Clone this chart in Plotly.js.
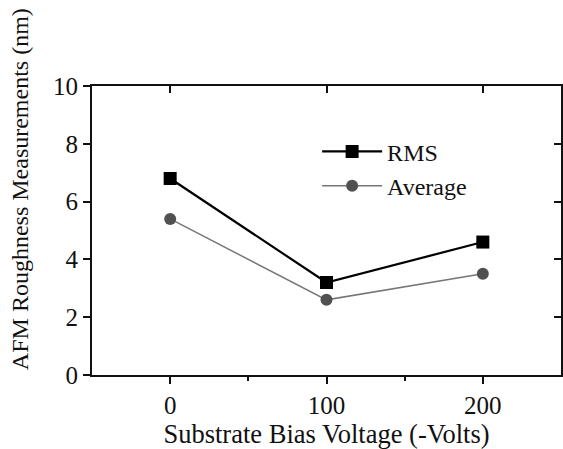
<!DOCTYPE html>
<html><head><meta charset="utf-8">
<script src="https://cdn.plot.ly/plotly-3.0.1.min.js"></script>
<style>html,body{margin:0;padding:0;background:#fff}</style>
</head><body>
<div id="chart" style="width:563px;height:449px"></div>
<script>
const voltages = [0, 100, 200];
const rmsValues = [6.8, 3.2, 4.6];
const avgValues = [5.4, 2.6, 3.5];
const xTickVals = [0, 100, 200];
const yTickVals = [0, 2, 4, 6, 8, 10];
const xTitle = "Substrate Bias Voltage (-Volts)";
const yTitle = "AFM Roughness Measurements (nm)";

const serif = "Liberation Serif, Times New Roman, serif";
const traces = [
  {x: voltages, y: rmsValues, name: "RMS", mode: "lines+markers",
   line: {color: "#000", width: 2.2}, marker: {symbol: "square", size: 13, color: "#000"}},
  {x: voltages, y: avgValues, name: "Average", mode: "lines+markers",
   line: {color: "#777", width: 1.5}, marker: {symbol: "circle", size: 12, color: "#505050"}},
  {x: voltages, y: rmsValues, xaxis: "x2", yaxis: "y2", mode: "markers",
   marker: {opacity: 0}, showlegend: false, hoverinfo: "skip"}
];
const layout = {
  width: 563, height: 449,
  margin: {l: 92, r: 2, t: 86, b: 74},
  paper_bgcolor: "#fff", plot_bgcolor: "#fff",
  font: {family: serif, size: 25, color: "#111"},
  showlegend: true,
  legend: {x: 0.48, y: 0.85, xanchor: "left", yanchor: "top", bgcolor: "rgba(0,0,0,0)",
           font: {family: serif, size: 24, color: "#111"}, tracegroupgap: 0, itemwidth: 60},
  xaxis: {range: [-50, 250], tickvals: xTickVals, ticktext: xTickVals.map(String),
          ticks: "outside", ticklen: 7, tickwidth: 2, tickcolor: "#111",
          showline: true, linecolor: "#111", linewidth: 2, showgrid: false, zeroline: false,
          tickfont: {family: serif, size: 25},
          title: {text: xTitle, font: {family: serif, size: 26.5}, standoff: 0},
          minor: {tickvals: [50, 150], ticks: "outside", ticklen: 4, tickwidth: 2, tickcolor: "#111"}},
  yaxis: {range: [0, 10], tickvals: yTickVals, ticks: "outside", ticklen: 7, tickwidth: 2, tickcolor: "#111",
          showline: true, linecolor: "#111", linewidth: 2, showgrid: false, zeroline: false,
          tickfont: {family: serif, size: 25}},
  xaxis2: {overlaying: "x", side: "top", matches: "x", range: [-50, 250], tickvals: xTickVals,
           showticklabels: false, ticks: "inside", ticklen: 7, tickwidth: 2, tickcolor: "#111",
           showline: true, linecolor: "#111", linewidth: 2, showgrid: false, zeroline: false},
  yaxis2: {overlaying: "y", side: "right", range: [0, 10], tickvals: yTickVals,
           showticklabels: false, ticks: "inside", ticklen: 7, tickwidth: 2, tickcolor: "#111",
           showline: true, linecolor: "#111", linewidth: 2, showgrid: false, zeroline: false},
  annotations: [{text: yTitle, textangle: -90, xref: "paper", yref: "paper",
                 x: -0.153, y: 0.644, xanchor: "center", yanchor: "middle", showarrow: false,
                 font: {family: serif, size: 24, color: "#111"}}]
};
Plotly.newPlot("chart", traces, layout, {displayModeBar: false, staticPlot: true});
</script>
</body></html>
